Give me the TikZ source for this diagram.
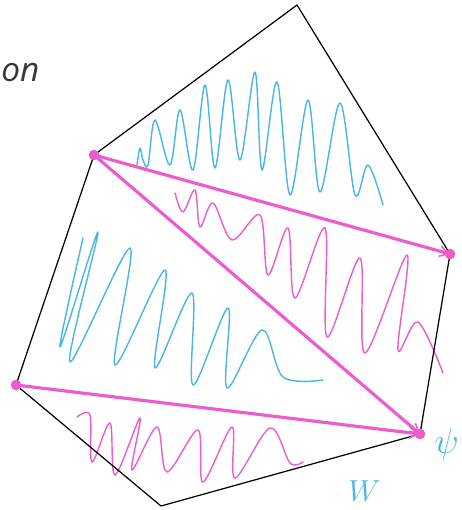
\documentclass[tikz,border=0pt]{standalone}
\usepackage{fontspec}
\newfontfamily\labelfont{Open Sans}
\usetikzlibrary{arrows.meta}
\definecolor{pk}{RGB}{236,92,205}
\definecolor{bl}{RGB}{72,182,226}
\definecolor{txtgray}{RGB}{55,55,60}
\begin{document}
\begin{tikzpicture}[x=0.02cm,y=-0.02cm,
  outline/.style={draw=black,line width=0.7pt,line join=miter},
  diag/.style={draw=pk,line width=1.8pt,line cap=round,-{Straight Barb[length=5pt,width=6pt,line width=0.9pt]}},
  scribblue/.style={draw=bl,line width=0.8pt,line cap=round,line join=round},
  scribpink/.style={draw=pk,line width=0.8pt,line cap=round,line join=round},
  vdot/.style={circle,fill=pk,inner sep=0pt,minimum size=6pt}]
\useasboundingbox (0,0) rectangle (462,510);
% vertices
\coordinate (A) at (94,155);
\coordinate (B) at (297,5);
\coordinate (C) at (450,254);
\coordinate (D) at (420,434);
\coordinate (E) at (161,506);
\coordinate (F) at (16,385);
% scribbles
\draw[scribblue] plot[smooth,tension=0.55] coordinates {(137,165) (140,148) (143,160) (148,165) (155,120) (170,165) (180,110) (193,170) (205,85) (215,168) (228,80) (240,160) (255,72) (262,170) (277,82) (290,195) (308,100) (320,192) (340,103) (355,195) (368,165) (383,205)};
\draw[scribpink] plot[smooth,tension=0.55] coordinates {(175,193) (183,212) (195,190) (200,227) (213,203) (232,240) (260,215) (268,275) (288,228) (295,298) (325,228) (327,337) (360,258) (365,353) (407,255) (398,350) (418,322) (443,373)};
\draw[scribblue] plot[smooth,tension=0.55] coordinates {(83,238) (60,347) (98,232) (70,362) (130,248) (115,365) (165,270) (155,368) (192,293) (193,385) (228,308) (227,388) (262,330) (283,377) (323,380)};
\draw[scribpink] plot[smooth,tension=0.55] coordinates {(77,417) (90,415) (92,462) (110,423) (115,475) (140,418) (132,470) (157,427) (167,472) (198,430) (203,482) (232,427) (235,478) (270,428) (290,463) (303,462)};
% outline
\draw[outline] (A) -- (B) -- (C) -- (D) -- (E) -- (F) -- cycle;
% diagonals
\draw[diag] (A) -- (C);
\draw[diag] (A) -- (D);
\draw[diag] (F) -- (D);
% dots
\node[vdot] (dA) at (A) {};
\node[vdot] (dC) at (C) {};
\node[vdot] (dD) at (D) {};
\node[vdot] (dF) at (F) {};
% texts
\node[anchor=base west,inner sep=0pt,text=txtgray,font=\labelfont\itshape\fontsize{19}{22}\selectfont] (ton) at (1,82) {on};
\node[anchor=north west,inner sep=0pt,text=bl,font=\fontsize{22}{24}\selectfont] (tpsi) at (434,428) {$\psi$};
\node[anchor=north west,inner sep=0pt,text=bl,font=\fontsize{18}{20}\selectfont] (tw) at (348,480) {$W$};
\end{tikzpicture}
\end{document}
